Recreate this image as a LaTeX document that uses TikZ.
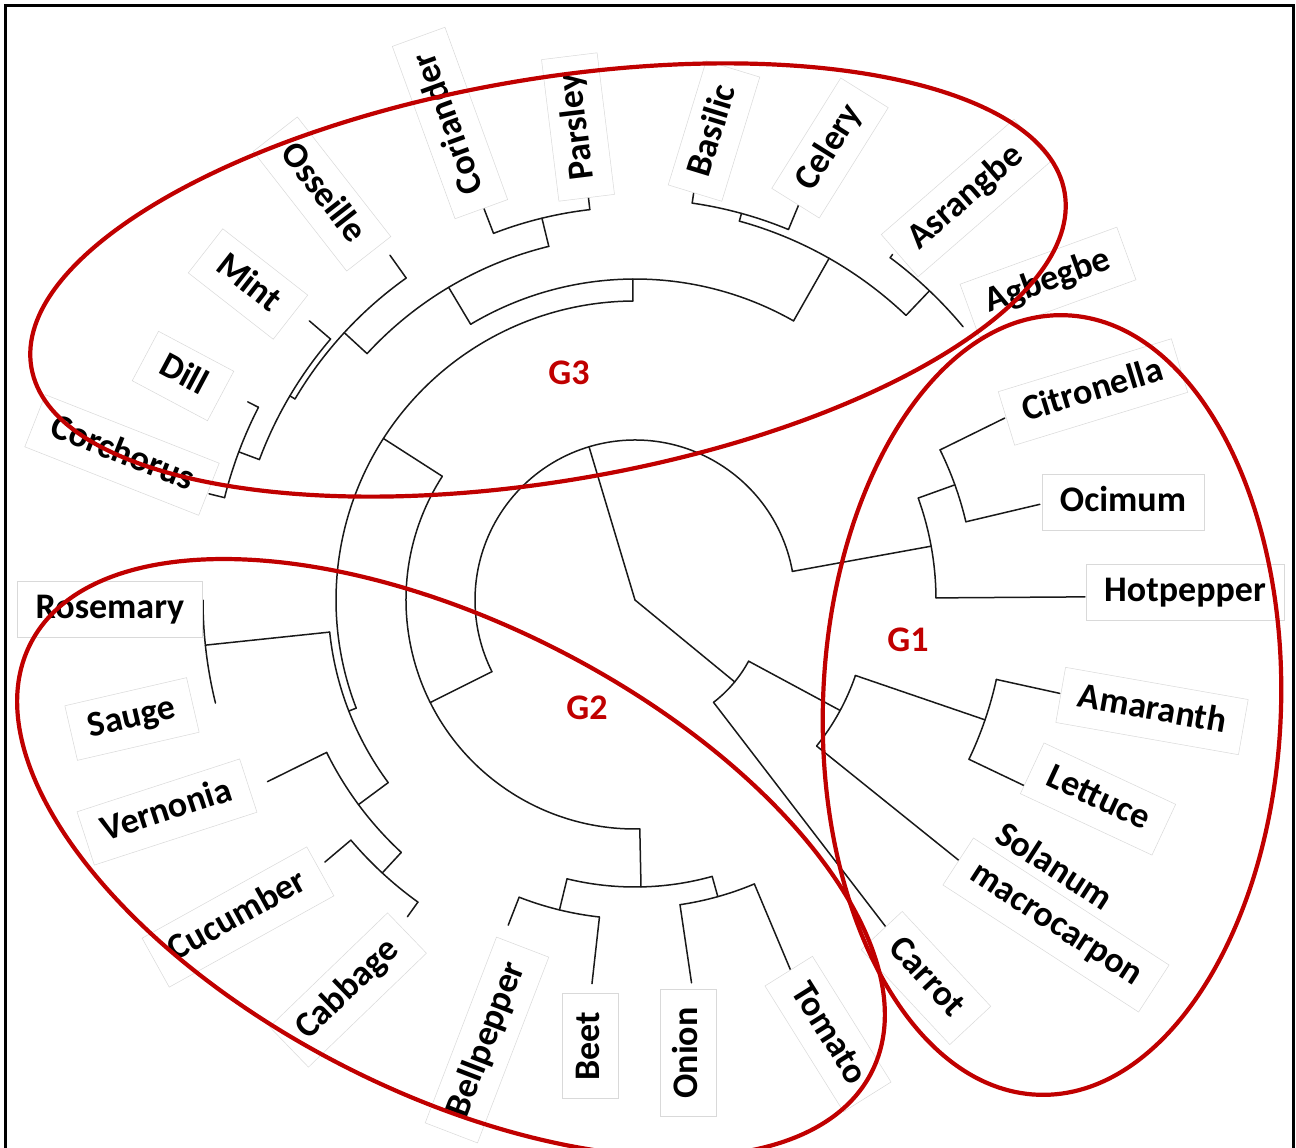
\documentclass[tikz,border=0pt]{standalone}
\usepackage{fontspec}
\setmainfont{Carlito}
\definecolor{groupred}{HTML}{C00000}

\begin{document}
\begin{tikzpicture}[
  x=1pt, y=1pt,
  font=\fontsize{36}{46}\selectfont\bfseries,
  branch/.style={line width=1.5pt, draw=black!90, line cap=round},
  leaf/.style={fill=white, draw=black!15, line width=0.5pt, inner xsep=18pt,
    inner ysep=11pt, text height=26pt, text depth=8pt},
  groupring/.style={draw=groupred, line width=4.2pt},
  grouplabel/.style={text=groupred}
]
\useasboundingbox (0,0) rectangle (1296,-1148);
\fill[white] (0,0) rectangle (1296,-1148);
\draw[line width=3pt] (5.5,-5.5) rectangle (1293.5,-1170);

% fan dendrogram, angles and radii around the root
\coordinate (C) at (635,-600);
\begin{scope}[shift={(C)}]
\foreach \a/\b/\r in {-52.5/-28.3/129, -38.8/-18.9/233, -25.5/-12.4/370,
    10.3/206.6/160, 0.4/19.8/301, 13.3/26.2/340,
    147.3/271.2/229, 256.3/285.6/287, 248.7/263.6/319, 278.4/292.8/308,
    90.4/201.2/299, 186/216.5/307, 180/193.8/432, 206.3/227.2/344, 220.2/234.3/372,
    60.4/120.8/321, 103.7/137.4/364, 96.6/111.1/393, 125.4/149.4/395,
    139.4/159.5/401, 152.9/166/423,
    46.4/74.6/393, 67.5/81.8/401, 39.8/53.3/427}
  \draw[branch] (\a:\r) arc[start angle=\a, end angle=\b, radius=\r pt];
\foreach \a/\p/\q in {106.7/0/160, -39.4/0/129,
    -52.5/129/412, -28.3/129/233, -38.8/233/416, -18.9/233/370, -12.4/370/435, -25.5/370/444,
    10.3/160/301, 206.6/160/229, 0.4/301/450, 19.8/301/340, 13.3/340/416, 26.2/340/412,
    147.3/229/299, 271.2/229/287, 256.3/287/319, 285.6/287/308,
    248.7/319/349, 263.6/319/386, 278.4/308/387, 292.8/308/404,
    90.4/299/321, 201.2/299/307, 186/307/432, 216.5/307/344,
    206.3/344/410, 227.2/344/372, 220.2/372/406, 234.3/372/390,
    120.8/321/364, 60.4/321/393, 103.7/364/393, 137.4/364/395,
    111.1/393/421, 96.6/393/410, 125.4/395/423, 149.4/395/401,
    139.4/401/429, 159.5/401/423, 152.9/423/435, 166/423/439,
    74.6/393/401, 46.4/393/427, 81.8/401/414, 67.5/401/429, 53.3/427/431}
  \draw[branch] (\a:\p) -- (\a:\q);
\end{scope}

% leaf labels
\node[leaf, rotate=-21.5] (corchorus) at (122,-455) {Corchorus};
\node[leaf, rotate=-28] (dill) at (183,-376) {Dill};
\node[leaf, rotate=-38] (mint) at (248,-284) {Mint};
\node[leaf, rotate=-52] (osseille) at (322,-194) {Osseille};
\node[leaf, rotate=110] (coriander) at (450,-123) {Coriander};
\node[leaf, rotate=97] (parsley) at (578,-127) {Parsley};
\node[leaf, rotate=73] (basilic) at (714,-131) {Basilic};
\node[leaf, rotate=58] (celery) at (830,-148) {Celery};
\node[leaf, rotate=41] (asrangbe) at (966,-198) {Asrangbe};
\node[leaf, rotate=20] (agbegbe) at (1048,-282) {Agbegbe};
\node[leaf, rotate=17] (citronella) at (1093,-392) {Citronella};
\node[leaf] (ocimum) at (1123,-502) {Ocimum};
\node[leaf] (hotpepper) at (1185,-592) {Hotpepper};
\node[leaf, rotate=-10] (amaranth) at (1152,-711) {Amaranth};
\node[leaf, rotate=-25] (lettuce) at (1098,-799) {Lettuce};
\node[leaf, rotate=-33, align=left] (solanum) at (1056,-925) {Solanum\\macrocarpon};
\node[leaf, rotate=-47] (carrot) at (926,-978) {Carrot};
\node[leaf, rotate=-58] (tomato) at (828,-1034) {Tomato};
\node[leaf, rotate=90] (onion) at (688,-1053) {Onion};
\node[leaf, rotate=90] (beet) at (590,-1046) {Beet};
\node[leaf, rotate=69] (bellpepper) at (487,-1040) {Bellpepper};
\node[leaf, rotate=44] (cabbage) at (348,-990) {Cabbage};
\node[leaf, rotate=29] (cucumber) at (238,-917) {Cucumber};
\node[leaf, rotate=18] (vernonia) at (167,-812) {Vernonia};
\node[leaf, rotate=13] (sauge) at (132,-719) {Sauge};
\node[leaf] (rosemary) at (110,-609) {Rosemary};

% groups
\draw[groupring, rotate around={9.6:(548,-280)}] (548,-280) ellipse[x radius=524pt, y radius=201pt];
\draw[groupring, rotate around={-27:(451,-858)}] (451,-858) ellipse[x radius=472pt, y radius=234pt];
\draw[groupring, rotate around={-2:(1052,-705)}] (1052,-705) ellipse[x radius=229pt, y radius=390pt];
\node[grouplabel] (g3) at (569,-373) {G3};
\node[grouplabel] (g2) at (587,-708) {G2};
\node[grouplabel] (g1) at (908,-640) {G1};
\end{tikzpicture}
\end{document}
